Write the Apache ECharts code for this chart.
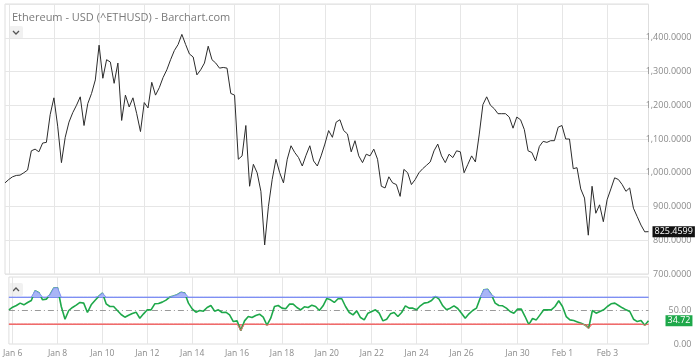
<!DOCTYPE html>
<html><head><meta charset="utf-8">
<script src="https://cdn.jsdelivr.net/npm/echarts@6/dist/echarts.min.js"></script>
<style>html,body{margin:0;padding:0;background:#fff}#c{width:696px;height:362px}</style>
</head><body><div id="c"></div>
<script>
// ---- data (4-hour samples, Jan 5 20:00 → Feb 4 20:00, with the data gap Jan 27 00:00–Jan 28 08:00) ----
const titleText = 'Ethereum - USD (^ETHUSD) - Barchart.com';
const tickLabels = ['Jan 6','Jan 8','Jan 10','Jan 12','Jan 14','Jan 16','Jan 18','Jan 20','Jan 22','Jan 24','Jan 26','Jan 30','Feb 1','Feb 3'];
const price = [970,980,988,992,993,1000,1008,1065,1070,1062,1088,1090,1172,1222,1138,1030,1105,1150,1178,1200,1225,1140,1205,1235,1275,1378,1280,1335,1328,1265,1325,1155,1230,1195,1222,
1175,1122,1208,1192,1268,1230,1252,1282,1305,1335,1362,1380,1410,1380,1352,1343,1290,1305,1325,1375,1335,1325,1310,1312,1310,1235,1230,1040,1050,1140,960,1025,1000,945,
786,900,980,1040,1000,970,1040,1080,1060,1045,1020,1052,1080,1035,1020,1050,1085,1125,1105,1150,1157,1125,1115,1062,1095,1050,1030,1055,1050,1070,1040,960,955,988,970,
965,930,1010,1000,965,980,1000,1012,1022,1032,1065,1085,1050,1030,1055,1045,1065,1062,1000,1025,1050,1032,1112,1202,1225,1200,1190,1175,1175,1175,1165,1132,1165,1157,1128,
1065,1060,1035,1078,1093,1090,1095,1095,1135,1140,1100,1100,1012,1015,952,925,815,960,880,905,855,920,952,985,980,965,945,955,895,870,845,825,825.4599];
const rsi = [51,55,57.5,61,58.5,62,65,79.5,76.5,66,67,73.5,83.5,84,56,37,50,54.5,58,62,61,47,58.5,65,71,76,60,56,56,50,44,40,43,45.5,47.5,
38.5,45,51,51,60,60.5,62.5,65.5,70,71.5,73.5,77,76,61,52.5,47.5,50,49,54.5,57.5,49,51,47,47.5,43.5,33.5,34.5,20,34.5,41,39.5,42.5,44.5,40,
28,38.5,56,57.5,53.5,52.5,59.5,59.5,54.5,51,55.5,54.5,58,56,50,57,68,66,62,67.5,67.5,56,
47,43.5,49.5,39.5,36,46,48.5,51,46,34.5,37,45,47,
41,47,57,53.5,53.5,51,57,61,62,65,71,67,57,51,53.5,57,53,46,38.5,45,50,53.5,68.5,81,81.5,73.5,61,57.5,57,53.5,48.5,46,52,52,41,
29,38,36,43.5,51,51,51,56,64.5,56,41,36,35,33,31,28.5,23.5,50,46,48.5,51,56,60,61,57.5,54,51,48.5,37,33.5,35,28,34.72];
const rsiLevels = {upper:70, mid:50, lower:30};

// ---- category slots ----
const MON = ['Jan','Feb'];
const categories = [];
{
  let t = Date.UTC(2018,0,5,20);
  const end = Date.UTC(2018,1,4,20);
  const gapStart = Date.UTC(2018,0,27,0), gapEnd = Date.UTC(2018,0,28,8);
  while (t <= end) {
    if (!(t >= gapStart && t <= gapEnd)) {
      const d = new Date(t);
      categories.push({day: MON[d.getUTCMonth()] + ' ' + d.getUTCDate(), hour: d.getUTCHours()});
    }
    t += 4*3600*1000;
  }
}
const catNames = categories.map(c => c.day + ' ' + String(c.hour).padStart(2,'0') + ':00');
const isTick = (i) => categories[i] && categories[i].hour === 0 && tickLabels.indexOf(categories[i].day) >= 0;

const obBase = rsi.map(() => rsiLevels.upper);
const obExc = rsi.map(v => Math.max(v - rsiLevels.upper, 0));
const osBase = rsi.map(v => Math.min(v, rsiLevels.lower));
const osExc = rsi.map(v => rsiLevels.lower - Math.min(v, rsiLevels.lower));

const FONT = 'Open Sans';
const fmt4 = v => v.toLocaleString('en-US',{minimumFractionDigits:4, maximumFractionDigits:4});
const GRID_C = '#e6e6e6';

const chart = echarts.init(document.getElementById('c'), null, {renderer:'canvas'});
chart.setOption({
  animation:false,
  textStyle:{fontFamily:FONT},
  title:{text:titleText, left:7, top:7, textStyle:{fontSize:11, fontWeight:'normal', color:'#7a7a7a', fontFamily:FONT}},
  grid:[
    {left:5, right:47.5, top:4, height:270, show:true, borderColor:'#dedede', borderWidth:1},
    {left:5, right:47.5, top:277, height:67, show:true, borderColor:'#dedede', borderWidth:1}
  ],
  xAxis:[
    {type:'category', gridIndex:0, data:catNames, boundaryGap:false,
     axisLine:{show:false}, axisTick:{show:false}, axisLabel:{show:false},
     splitLine:{show:true, interval:(i)=>isTick(i), lineStyle:{color:GRID_C}}},
    {type:'category', gridIndex:1, data:catNames, boundaryGap:false,
     axisLine:{show:false}, axisTick:{show:false},
     axisLabel:{show:true, interval:(i)=>isTick(i), formatter:(v,i)=>categories[i].day, color:'#8a8a8a', fontSize:8.5, margin:5, fontFamily:FONT},
     splitLine:{show:true, interval:(i)=>isTick(i), lineStyle:{color:GRID_C}}}
  ],
  yAxis:[
    {type:'value', gridIndex:0, position:'right', min:700, max:1500, interval:100,
     axisLine:{show:false}, axisTick:{show:false},
     axisLabel:{formatter:fmt4, color:'#8a8a8a', fontSize:9, align:'right', margin:43, showMaxLabel:false, fontFamily:FONT},
     splitLine:{lineStyle:{color:GRID_C}}},
    {type:'value', gridIndex:1, position:'right', min:0, max:100, interval:50,
     axisLine:{show:false}, axisTick:{show:false},
     axisLabel:{formatter:v=>v.toFixed(2), color:'#8a8a8a', fontSize:9, align:'right', margin:43, showMaxLabel:false, fontFamily:FONT},
     splitLine:{show:false}}
  ],
  series:[
    {name:'price', type:'line', xAxisIndex:0, yAxisIndex:0, data:price, symbol:'none', silent:true,
     lineStyle:{color:'#2b2b2b', width:1}, z:3,
     endLabel:{show:true, formatter:p=>p.value.toFixed(4), backgroundColor:'#111', color:'#fff', fontSize:9, padding:[1,2,1,2], distance:4, fontFamily:FONT}},
    {name:'osBase', type:'line', xAxisIndex:1, yAxisIndex:1, stack:'os', data:osBase, symbol:'none', silent:true,
     lineStyle:{color:'#ef6b6b', width:1}, z:4},
    {name:'osFill', type:'line', xAxisIndex:1, yAxisIndex:1, stack:'os', data:osExc, symbol:'none', silent:true,
     lineStyle:{width:0, opacity:0}, areaStyle:{color:'#f4a3a3', opacity:1}, z:1},
    {name:'rsi', type:'line', xAxisIndex:1, yAxisIndex:1, data:rsi, symbol:'none', silent:true,
     lineStyle:{color:'#1ea84a', width:1.6}, z:3,
     endLabel:{show:true, formatter:p=>p.value.toFixed(2), backgroundColor:'#1ea84a', color:'#fff', fontSize:9, padding:[1,2,1,2], distance:17, fontFamily:FONT},
     markLine:{silent:true, symbol:'none', label:{show:false}, z:2,
       data:[
         {yAxis:rsiLevels.upper, lineStyle:{color:'#7b8cf2', width:1, type:'solid'}},
         {yAxis:rsiLevels.mid, lineStyle:{color:'#9a9a9a', width:1, type:[6,3,1,3]}},
         {yAxis:rsiLevels.lower, lineStyle:{color:'#ef6b6b', width:1, type:'solid'}}
       ]}},
    {name:'obBase', type:'line', xAxisIndex:1, yAxisIndex:1, stack:'ob', data:obBase, symbol:'none', silent:true,
     lineStyle:{opacity:0, width:0}, z:1},
    {name:'obFill', type:'line', xAxisIndex:1, yAxisIndex:1, stack:'ob', data:obExc, symbol:'none', silent:true,
     lineStyle:{color:'#8292f3', width:1}, areaStyle:{color:'#a9b5f6', opacity:1}, z:4}
  ],
  graphic:[
    {type:'rect', left:9, top:26, shape:{width:14, height:13, r:2}, style:{fill:'#f1f1f1'}},
    {type:'polyline', shape:{points:[[13,31],[16,34],[19,31]]}, style:{stroke:'#555', lineWidth:1.3, fill:null}},
    {type:'rect', left:9, top:283, shape:{width:14, height:13, r:2}, style:{fill:'#f1f1f1'}},
    {type:'polyline', shape:{points:[[13,291],[16,288],[19,291]]}, style:{stroke:'#555', lineWidth:1.3, fill:null}}
  ]
});
</script></body></html>
